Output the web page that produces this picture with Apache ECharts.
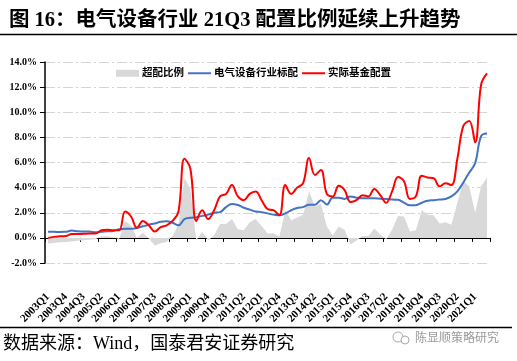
<!DOCTYPE html>
<html><head><meta charset="utf-8">
<script src="https://cdn.jsdelivr.net/npm/echarts@6/dist/echarts.min.js"></script>
<style>html,body{margin:0;padding:0;background:#fff;}#c{width:517px;height:361px;}</style>
</head><body><div id="c"></div>
<script>
// Quarters 2003Q1 .. 2021Q3
var quarters = [];
for (var y = 2003; y <= 2021; y++) { for (var q = 1; q <= 4; q++) { if (y === 2021 && q > 3) break; quarters.push(y + 'Q' + q); } }

var seriesNames = ['超配比例', '电气设备行业标配', '实际基金配置'];

// 实际基金配置 (%)
var actualAlloc = [0.0,0.08,0.12,0.15,0.3,0.3,0.32,0.35,0.35,0.6,0.65,0.6,0.6,2.1,1.7,0.8,1.35,1.0,0.5,0.85,
  1.0,1.35,2.1,6.3,5.5,1.35,2.2,1.5,2.2,3.3,3.5,4.2,3.3,3.0,3.5,3.7,3.0,2.3,2.2,1.8,
  4.2,3.5,4.0,4.35,6.35,5.0,5.4,3.5,3.3,4.15,3.8,2.85,3.0,3.4,3.3,3.9,3.4,2.8,3.7,4.85,
  4.5,3.1,3.3,4.95,4.8,4.75,4.1,4.35,4.2,6.3,8.9,9.3,7.6,12.2,13.1];

// 电气设备行业标配 (%)
var standardAlloc = [0.48,0.48,0.47,0.48,0.58,0.52,0.5,0.5,0.45,0.48,0.52,0.55,0.68,0.72,0.72,0.8,0.92,1.05,1.15,1.28,
  1.32,1.2,1.0,1.5,1.6,1.65,1.75,1.85,2.0,2.05,2.45,2.7,2.62,2.4,2.25,2.1,2.05,1.95,1.85,1.8,
  1.95,2.2,2.38,2.45,2.63,2.63,3.0,2.65,3.2,3.2,3.1,3.3,3.2,3.15,3.15,3.15,3.12,3.1,3.05,3.03,
  2.8,2.6,2.6,2.8,2.95,3.0,3.05,3.1,3.3,3.7,4.4,5.2,5.95,8.1,8.3];

// 超配比例 (%)
var overweight = [-0.45,-0.4,-0.35,-0.33,-0.28,-0.22,-0.18,-0.15,-0.1,0.12,0.13,0.05,-0.08,1.35,0.98,0.0,0.43,-0.05,-0.6,-0.43,
  -0.32,0.15,1.1,4.75,3.9,-0.2,0.5,-0.2,0.2,1.1,1.1,1.5,0.68,0.6,1.25,1.5,0.95,0.37,0.35,0.1,
  2.2,1.4,1.62,1.85,3.7,2.5,2.7,0.9,0.2,0.9,0.65,-0.5,-0.2,0.15,0.15,0.75,0.28,-0.1,0.65,1.75,
  1.7,0.5,0.6,2.2,1.85,1.8,1.15,1.25,1.05,2.8,4.5,4.1,2.0,4.1,4.8];

var yTicks = { min: -2, max: 14, interval: 2 };

var serifCJK = '"Liberation Serif","Noto Sans CJK SC",serif';

var chart = echarts.init(document.getElementById('c'), null, { renderer: 'canvas' });
chart.setOption({
  backgroundColor: '#fff',
  animation: false,
  title: {
    text: '图 16：电气设备行业 21Q3 配置比例延续上升趋势',
    left: 4, top: 5,
    textStyle: { fontFamily: serifCJK, fontWeight: 'bold', fontSize: 20.5, color: '#000' }
  },
  legend: {
    left: 111, top: 63,
    itemWidth: 23, itemHeight: 7, itemGap: 3,
    textStyle: { fontFamily: serifCJK, fontWeight: 'bold', fontSize: 10.5, color: '#000', padding: [0, 0, 0, -2] },
    data: [
      { name: seriesNames[0], icon: 'rect', itemStyle: { color: '#d9d9d9' } },
      { name: seriesNames[1], itemStyle: { opacity: 0 } },
      { name: seriesNames[2], itemStyle: { opacity: 0 } }
    ]
  },
  grid: { left: 45, right: 27, top: 62, bottom: 98, containLabel: false },
  xAxis: {
    type: 'category',
    data: quarters,
    boundaryGap: true,
    axisLine: { onZero: true, lineStyle: { color: '#000', width: 1.2 } },
    axisTick: { show: true, interval: 2, length: 4, inside: false, lineStyle: { color: '#000', width: 1 } },
    axisLabel: {
      interval: 2, rotate: 45, margin: 32,
      fontFamily: '"Liberation Serif",serif', fontWeight: 'bold', fontSize: 11, color: '#000'
    },
    splitLine: { show: false }
  },
  yAxis: {
    type: 'value',
    min: yTicks.min, max: yTicks.max, interval: yTicks.interval,
    axisLine: { show: true, lineStyle: { color: '#000', width: 1.5 } },
    axisTick: { show: true, length: 5, lineStyle: { color: '#000', width: 1 } },
    axisLabel: {
      margin: 8,
      formatter: function (v) { return v.toFixed(1) + '%'; },
      fontFamily: '"Liberation Serif",serif', fontWeight: 'bold', fontSize: 10, color: '#000'
    },
    splitLine: { show: true, lineStyle: { color: '#d4d4d4', width: 1.2, type: [10, 3, 2, 3] } }
  },
  series: [
    {
      name: seriesNames[0], type: 'line', data: overweight,
      symbol: 'none', showSymbol: false, smooth: false,
      color: '#d9d9d9',
      lineStyle: { width: 0, color: '#d9d9d9' },
      areaStyle: { color: '#d9d9d9', opacity: 1 },
      z: 1
    },
    {
      name: seriesNames[1], type: 'line', data: standardAlloc,
      symbol: 'none', showSymbol: false, smooth: 0.4,
      color: '#4472c4',
      lineStyle: { width: 2, color: '#4472c4' },
      z: 2
    },
    {
      name: seriesNames[2], type: 'line', data: actualAlloc,
      symbol: 'none', showSymbol: false, smooth: 0.4,
      color: '#ff0000',
      lineStyle: { width: 2, color: '#ff0000' },
      z: 3
    }
  ],
  graphic: [
    { type: 'line', shape: { x1: 0, y1: 34.5, x2: 517, y2: 34.5 }, style: { stroke: '#000', lineWidth: 1.5 } },
    { type: 'line', shape: { x1: 0, y1: 327.5, x2: 512, y2: 327.5 }, style: { stroke: '#000', lineWidth: 1.5 } },
    { type: 'text', left: 3, top: 335, style: { text: '数据来源：Wind，国泰君安证券研究', fontFamily: serifCJK, fontSize: 18, fill: '#000' } },
    { type: 'circle', shape: { cx: 398, cy: 337, r: 5 }, style: { fill: 'none', stroke: '#aaa', lineWidth: 1 } },
    { type: 'circle', shape: { cx: 405, cy: 340, r: 4 }, style: { fill: '#fff', stroke: '#aaa', lineWidth: 1 } },
    { type: 'text', left: 415, top: 331, style: { text: '陈显顺策略研究', fontFamily: '"Noto Sans CJK SC",sans-serif', fontSize: 12, fill: '#999' } }
  ]
});
</script></body></html>
